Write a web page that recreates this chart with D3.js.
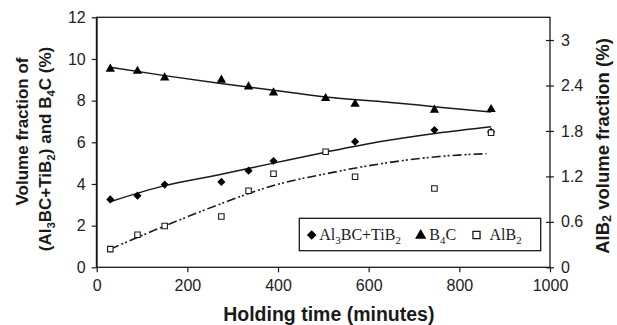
<!DOCTYPE html>
<html>
<head>
<meta charset="utf-8">
<script src="https://cdn.jsdelivr.net/npm/d3@7"></script>
<style>
  html, body { margin: 0; padding: 0; background: #fff; }
  svg { display: block; }
</style>
</head>
<body>
<svg id="chart" width="617" height="325"></svg>
<script>
// ---------- data ----------
const times      = [30, 90, 150, 275, 335, 390, 505, 570, 745, 870];
const b4c        = [9.52, 9.42, 9.10, 8.99, 8.67, 8.38, 8.11, 7.84, 7.55, 7.58];
const al3bc      = [3.26, 3.44, 3.97, 4.10, 4.64, 5.10, null, 6.03, 6.59, 6.50];
const alb2       = [0.24, 0.43, 0.545, 0.67, 1.01, 1.235, 1.525, 1.195, 1.04, 1.776];

const trendTimes = [30, 150, 270, 390, 510, 630, 750, 870];
const b4cTrend   = [9.60, 9.20, 8.83, 8.50, 8.16, 7.95, 7.70, 7.45];
const al3bcTrend = [3.15, 3.92, 4.44, 5.00, 5.55, 6.05, 6.44, 6.75];
const alb2TrendTimes = [30, 150, 270, 390, 510, 630, 750, 860];
const alb2Trend  = [0.24, 0.545, 0.83, 1.08, 1.24, 1.37, 1.46, 1.50];

const xTicks      = [0, 200, 400, 600, 800, 1000];
const yLeftTicks  = [0, 2, 4, 6, 8, 10, 12];
const yRightTicks = [0, 0.6, 1.2, 1.8, 2.4, 3];

// ---------- layout ----------
const svg = d3.select("#chart");
const L = 96.7, R = 550, T = 17.3, B = 267.3;
const sans = "'Liberation Sans', Arial, Helvetica, sans-serif";
const serif = "'Liberation Serif', 'Times New Roman', serif";
const ink = "#1a1a1a";

const x  = d3.scaleLinear().domain([0, 1000]).range([L, R]);
const yL = d3.scaleLinear().domain([0, 12]).range([B, T]);
const yR = d3.scaleLinear().domain([0, 3.3]).range([B, T]);

// frame
svg.append("rect").attr("x", L).attr("y", T).attr("width", R - L).attr("height", B - T)
  .attr("fill", "none").attr("stroke", ink).attr("stroke-width", 1.3);
svg.append("line").attr("x1", L).attr("x2", L).attr("y1", T).attr("y2", B)
  .attr("stroke", ink).attr("stroke-width", 1.8);

// x axis
const gx = svg.append("g").attr("transform", `translate(0,${B})`)
  .call(d3.axisBottom(x).tickValues(xTicks).tickFormat(d3.format("d")).tickSize(5).tickPadding(7).tickSizeOuter(0));
// left axis
const gl = svg.append("g").attr("transform", `translate(${L},0)`)
  .call(d3.axisLeft(yL).tickValues(yLeftTicks).tickSize(5).tickPadding(6).tickSizeOuter(0));
// right axis
const gr = svg.append("g").attr("transform", `translate(${R},0)`)
  .call(d3.axisRight(yR).tickValues(yRightTicks).tickFormat(d3.format("")).tickSize(4).tickPadding(7).tickSizeOuter(0));
gr.selectAll(".tick line").attr("x1", -4);

[gx, gl, gr].forEach(g => {
  g.select(".domain").remove();
  g.selectAll(".tick line").attr("stroke", ink).attr("stroke-width", 1.2);
  g.selectAll(".tick text").attr("font-family", sans).attr("font-size", 16).attr("fill", "#222");
});

// trend lines
const lineL = (ts) => d3.line().x((d, i) => x(ts[i])).y(d => yL(d)).curve(d3.curveMonotoneX);
const lineR = (ts) => d3.line().x((d, i) => x(ts[i])).y(d => yR(d)).curve(d3.curveMonotoneX);

svg.append("path").attr("d", lineL(trendTimes)(b4cTrend))
  .attr("fill", "none").attr("stroke", ink).attr("stroke-width", 1.5);
svg.append("path").attr("d", lineL(trendTimes)(al3bcTrend))
  .attr("fill", "none").attr("stroke", ink).attr("stroke-width", 1.5);
svg.append("path").attr("d", lineR(alb2TrendTimes)(alb2Trend))
  .attr("fill", "none").attr("stroke", ink).attr("stroke-width", 1.6)
  .attr("stroke-dasharray", "9,3,2,2,2,3");

// markers
const diamond = d3.symbol().type(d3.symbolDiamond2).size(42);
const tri = d3.symbol().type(d3.symbolTriangle).size(38);
const sq = d3.symbol().type(d3.symbolSquare).size(30);

svg.append("g").selectAll("path")
  .data(times.map((t, i) => [t, al3bc[i]]).filter(d => d[1] != null))
  .join("path")
  .attr("d", diamond)
  .attr("transform", d => `translate(${x(d[0])},${yL(d[1])})`)
  .attr("fill", "#000");

svg.append("g").selectAll("path")
  .data(times.map((t, i) => [t, b4c[i]]))
  .join("path")
  .attr("d", tri)
  .attr("transform", d => `translate(${x(d[0])},${yL(d[1])})`)
  .attr("fill", "#000");

svg.append("g").selectAll("path")
  .data(times.map((t, i) => [t, alb2[i]]))
  .join("path")
  .attr("d", sq)
  .attr("transform", d => `translate(${x(d[0])},${yR(d[1])})`)
  .attr("fill", "#fff").attr("stroke", ink).attr("stroke-width", 1.1);

// legend
const lg = svg.append("g");
lg.append("rect").attr("x", 299.3).attr("y", 218.3).attr("width", 241.4).attr("height", 32.4)
  .attr("fill", "#fff").attr("stroke", ink).attr("stroke-width", 1.3);
lg.append("path").attr("d", d3.symbol().type(d3.symbolDiamond2).size(60)())
  .attr("transform", "translate(311.7,235)").attr("fill", "#000");
lg.append("path").attr("d", d3.symbol().type(d3.symbolTriangle).size(55)())
  .attr("transform", "translate(420.7,235.5)").attr("fill", "#000");
lg.append("path").attr("d", d3.symbol().type(d3.symbolSquare).size(50)())
  .attr("transform", "translate(476.5,235)").attr("fill", "#fff").attr("stroke", ink).attr("stroke-width", 1.3);

function subText(g, xPos, yPos, parts, size, family, weight, shift) {
  const sh = (shift == null ? 0.25 : shift) * size;
  const t = g.append("text").attr("x", xPos).attr("y", yPos)
    .attr("font-family", family).attr("font-size", size).attr("font-weight", weight || "normal")
    .attr("fill", ink);
  let down = false;
  parts.forEach(p => {
    const s = t.append("tspan").text(p.t);
    if (p.sub) {
      s.attr("font-size", size * 0.68).attr("dy", down ? 0 : sh);
      down = true;
    } else {
      if (down) s.attr("dy", -sh);
      down = false;
    }
  });
  return t;
}
subText(lg, 319.3, 240, [{t:"Al"},{t:"3",sub:true},{t:"BC+TiB"},{t:"2",sub:true}], 16, serif);
subText(lg, 429.3, 240, [{t:"B"},{t:"4",sub:true},{t:"C"}], 16, serif);
subText(lg, 489.5, 240, [{t:"AlB"},{t:"2",sub:true}], 16, serif);

// axis titles
svg.append("text").attr("x", 328.8).attr("y", 321).attr("text-anchor", "middle")
  .attr("font-family", sans).attr("font-weight", "bold").attr("font-size", 19.5).attr("fill", ink)
  .text("Holding time (minutes)");

svg.append("text").attr("transform", "translate(28,131.5) rotate(-90)")
  .attr("text-anchor", "middle").attr("font-family", sans).attr("font-weight", "bold")
  .attr("font-size", 17).attr("fill", ink).text("Volume fraction of");

const t2 = subText(svg.append("g").attr("transform", "translate(51,149) rotate(-90)"), 0, 0,
  [{t:"(Al"},{t:"3",sub:true},{t:"BC+TiB"},{t:"2",sub:true},{t:") and B"},{t:"4",sub:true},{t:"C (%)"}],
  17, sans, "bold");
t2.attr("text-anchor", "middle");

const t3 = subText(svg.append("g").attr("transform", "translate(608.5,146) rotate(-90)"), 0, 0,
  [{t:"AlB"},{t:"2",sub:true},{t:" volume fraction (%)"}], 18.5, sans, "bold", 0.15);
t3.attr("text-anchor", "middle");
</script>
</body>
</html>
